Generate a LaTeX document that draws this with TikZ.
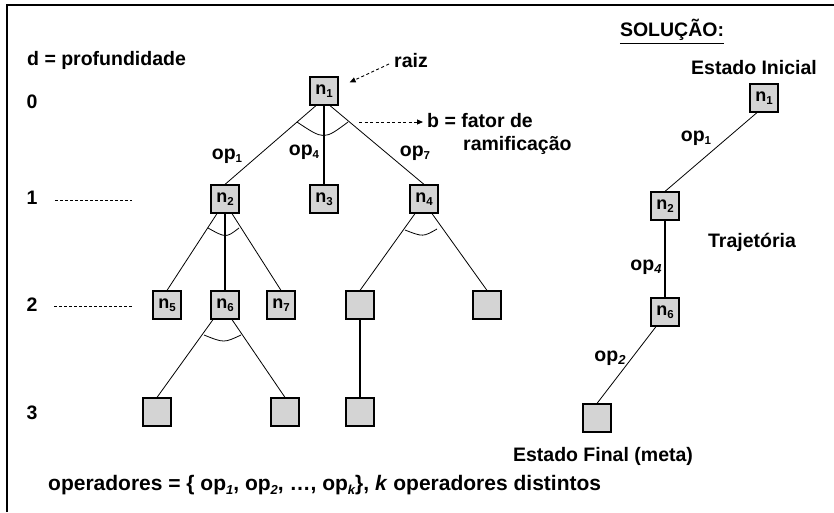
\documentclass[tikz,border=0pt]{standalone}
\usepackage{fontspec}
\setmainfont{Liberation Sans}
\usetikzlibrary{arrows.meta,calc}
\newcommand{\ssub}[1]{\raisebox{-0.35ex}{\fontsize{11.5}{12}\selectfont #1}}
\newcommand{\isub}[1]{\raisebox{-0.35ex}{\fontsize{13}{13}\selectfont\itshape #1}}
\begin{document}
\begin{tikzpicture}[x=1pt,y=-1pt,
  every node/.style={font=\fontsize{19.5}{21}\selectfont\bfseries, inner sep=0pt},
  box/.style={draw=black, line width=1.2pt, fill=black!17, minimum size=28pt,
              font=\fontsize{18}{19}\selectfont\bfseries},
  edge/.style={line width=0.8pt, black},
  vedge/.style={line width=1.1pt, black},
  fan/.style={line width=0.8pt, black},
  level/.style={dashed, dash pattern=on 3pt off 2pt, line width=0.8pt},
  pointer/.style={dashed, dash pattern=on 3pt off 2.5pt, line width=0.9pt,
                  -{Triangle[length=6pt,width=5pt]}}]
\useasboundingbox (0,0) rectangle (834,512);
% frame
\draw[line width=1.6pt] (7,512) -- (7,5) -- (834,5);

% depth scale
\node[anchor=west] (dlab) at (27,60) {d = profundidade};
\node (d0) at (32,102) {0};
\node (d1) at (32,198) {1};
\node (d2) at (32,305) {2};
\node (d3) at (32,413) {3};
\coordinate (d1e) at (132,200);
\coordinate (d2e) at (132,306);
\draw[level] ($(d1)+(23,2)$) -- (d1e);
\draw[level] ($(d2)+(22,1)$) -- (d2e);

% search tree
\node[box] (n1) at (324,91) {n\ssub{1}};
\node[box] (n2) at (225,199) {n\ssub{2}};
\node[box] (n3) at (324,199) {n\ssub{3}};
\node[box] (n4) at (424,199) {n\ssub{4}};
\node[box] (n5) at (167,305) {n\ssub{5}};
\node[box] (n6) at (225,305) {n\ssub{6}};
\node[box] (n7) at (281,305) {n\ssub{7}};
\node[box] (m1) at (360,305) {};
\node[box] (m2) at (487,305) {};
\node[box] (p1) at (157,412) {};
\node[box] (p2) at (285,412) {};
\node[box] (p3) at (360,412) {};

\draw[edge] ([xshift=-8]n1.south) -- (n2.north);
\draw[vedge] (n1.south) -- (n3.north);
\draw[edge] ([xshift=6]n1.south) -- (n4.north);
\draw[edge] ([xshift=-8]n2.south) -- (n5.north);
\draw[vedge] (n2.south) -- (n6.north);
\draw[edge] ([xshift=7]n2.south) -- (n7.north);
\draw[edge] ([xshift=-9]n4.south) -- (m1.north);
\draw[edge] ([xshift=8]n4.south) -- (m2.north);
\draw[edge] ([xshift=-12]n6.south) -- (p1.north);
\draw[edge] ([xshift=7]n6.south) -- (p2.north);
\draw[vedge] (m1.south) -- (p3.north);

% branching arcs
\draw[fan] ($(n1)+(-27,31)$) .. controls ($(n1)+(0,49)$) .. ($(n1)+(24,31)$);
\draw[fan] ($(n2)+(-17,29)$) .. controls ($(n2)+(1,39)$) .. ($(n2)+(14,29)$);
\draw[fan] ($(n4)+(-19,31)$) .. controls ($(n4)+(-1,38)$) .. ($(n4)+(13,30)$);
\draw[fan] ($(n6)+(-21,30)$) .. controls ($(n6)+(-1,38)$) .. ($(n6)+(16,30)$);

% operator labels
\node (o1) at (227,156) {op\ssub{1}};
\node (o4) at (304,152) {op\ssub{4}};
\node (o7) at (415,153) {op\ssub{7}};

% annotations
\node (raiz) at (411,61) {raiz};
\draw[pointer] ($(raiz.west)+(-5,3)$) -- ($(n1.north east)+(11,6)$);
\node[anchor=west] (bfat) at (427,121) {b = fator de};
\node[anchor=west] (bram) at (463,145) {ramificação};
\coordinate (bstart) at (359,122);
\draw[pointer] (bstart) -- ($(bfat.west)+(-4,1)$);

% solution path
\node (sol) at (672,30) {SOLUÇÃO:};
\draw[line width=1pt] ($(sol.south west)+(0,3)$) -- ($(sol.south east)+(0,3)$);
\node (ini) at (754,68) {Estado Inicial};
\node[box] (s1) at (764,98) {n\ssub{1}};
\node[box] (s2) at (665,206) {n\ssub{2}};
\node[box] (s6) at (665,312) {n\ssub{6}};
\node[box] (s9) at (597,418) {};
\node (fin) at (603,456) {Estado Final (meta)};
\node (traj) at (752,242) {Trajetória};
\draw[edge] ([xshift=-7]s1.south) -- (s2.north);
\draw[vedge] (s2.south) -- (s6.north);
\draw[edge] ([xshift=-9]s6.south) -- (s9.north);
\node (so1) at (696,138) {op\ssub{1}};
\node (so4) at (646,267) {op\isub{4}};
\node (so2) at (610,358) {op\isub{2}};

% operator set
\node[anchor=west] (ops) at (48,485) {\fontsize{21}{23}\selectfont operadores = \{ op\isub{1}, op\isub{2}, …, op\isub{k}\}, \textit{k} operadores distintos};
\end{tikzpicture}
\end{document}
